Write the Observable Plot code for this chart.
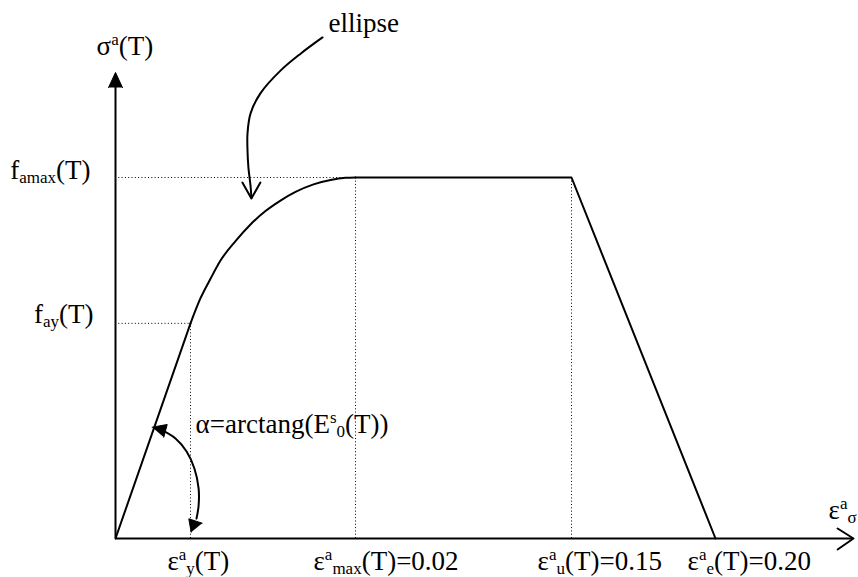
<!DOCTYPE html>
<html><head><meta charset="utf-8">
<script src="https://cdn.jsdelivr.net/npm/d3@7"></script>
<script src="https://cdn.jsdelivr.net/npm/@observablehq/plot@0.6"></script>
<style>html,body{margin:0;padding:0;background:#fff;overflow:hidden}
svg text, svg tspan{font-family:"Liberation Serif","DejaVu Serif","Noto Serif",serif !important;}</style>
</head><body><div id="chart"></div>
<script>
// Schematic stress-strain law (x: drawn strain position, y: stress in % of f_amax)
const epsY = 2.5, epsMax = 8, epsU = 15.2, epsE = 20;
const fAy = 59.6, fAmax = 100;

// elastic branch
const elasticE = [0, epsY];
const elasticS = [0, fAy];
// elliptical branch
const ellipseE = [2.5, 2.83, 3.17, 3.5, 4.0, 4.5, 5.0, 5.5, 6.0, 6.6, 7.17, 7.67, 8];
const ellipseS = [59.6, 66.5, 72.0, 77.0, 82.4, 87.0, 90.7, 93.6, 96.0, 98.1, 99.3, 99.9, 100];
// plateau and descending branch
const plateauE = [epsMax, epsU, epsE];
const plateauS = [fAmax, fAmax, 0];

// axes
const xAxisEnd = 24.6, yAxisEnd = 124.9, yArrowTip = 129.1;
const xArrowE = [24.07, 24.6, 24.07];
const xArrowS = [2.77, 0, -3.05];
const yArrowE = [-0.233, 0, 0.233];
const yArrowS = [yAxisEnd, yArrowTip, yAxisEnd];

// "ellipse" leader arrow
const leaderE = [6.9, 6.17, 5.5, 4.83, 4.5, 4.4, 4.4, 4.43, 4.5, 4.53];
const leaderS = [138.8, 134.3, 129.6, 123.3, 117.7, 112.2, 107.5, 102.8, 97.8, 94.5];
const leaderHeadE = [4.23, 4.53, 4.83];
const leaderHeadS = [98.6, 94.2, 98.6];

// alpha angle arc with two filled heads
const arcE = [1.5, 2.0, 2.37, 2.63, 2.77, 2.77, 2.7];
const arcS = [30.2, 27.7, 24.1, 19.4, 13.9, 9.1, 5.5];
const headUpE = [1.223, 1.723, 1.61];
const headUpS = [30.83, 31.58, 28.06];
const headDownE = [2.523, 2.443, 2.89];
const headDownS = [1.745, 5.457, 4.24];

// labels
const labelText = ["ellipse", "σ^{a}(T)", "f_{amax}(T)", "f_{ay}(T)", "α=arctang(E^{s}_{0}(T))",
  "ε^{a}_{y}(T)", "ε^{a}_{max}(T)=0.02", "ε^{a}_{u}(T)=0.15", "ε^{a}_{e}(T)=0.20", "ε^{a}_{σ}"];
const labelE = [7.1, -0.63, -0.83, -0.73, 2.67, 1.73, 6.6, 14.07, 19.07, 23.77];
const labelS = [140.2, 133.8, 99.7, 59.6, 29.1, -8.6, -8.6, -8.6, -8.6, 5.3];
const labelAnchor = ["start", "start", "end", "end", "start", "start", "start", "start", "start", "start"];

const pts = (E, S) => E.map((e, i) => ({e, s: S[i]}));
const labels = labelText.map((t, i) => ({t, e: labelE[i], s: labelS[i], a: labelAnchor[i]}));

const W = 858, H = 577;
const dotted = {stroke: "#000", strokeWidth: 1, strokeDasharray: "1,2.3"};
const solid = {stroke: "#000", strokeWidth: 2};
const textOpts = {x: "e", y: "s", text: "t", lineAnchor: "bottom", fontSize: 27, fill: "#000"};

const marks = [
  Plot.ruleY([fAmax], {x1: 0, x2: epsMax, ...dotted}),
  Plot.ruleY([fAy], {x1: 0, x2: epsY, ...dotted}),
  Plot.ruleX([epsY], {y1: 0, y2: fAy, ...dotted}),
  Plot.ruleX([epsMax], {y1: 0, y2: fAmax, ...dotted}),
  Plot.ruleX([epsU], {y1: 0, y2: fAmax, ...dotted}),
  Plot.ruleY([0], {x1: 0, x2: xAxisEnd, ...solid}),
  Plot.ruleX([0], {y1: 0, y2: yAxisEnd, ...solid}),
  Plot.line(pts(xArrowE, xArrowS), {x: "e", y: "s", ...solid}),
  Plot.line(pts(yArrowE, yArrowS), {x: "e", y: "s", fill: "#000", stroke: "#000", strokeWidth: 1}),
  Plot.line(pts(elasticE, elasticS), {x: "e", y: "s", ...solid}),
  Plot.line(pts(ellipseE, ellipseS), {x: "e", y: "s", curve: "monotone-x", ...solid}),
  Plot.line(pts(plateauE, plateauS), {x: "e", y: "s", ...solid}),
  Plot.line(pts(leaderE, leaderS), {x: "e", y: "s", curve: "catmull-rom", ...solid}),
  Plot.line(pts(leaderHeadE, leaderHeadS), {x: "e", y: "s", ...solid}),
  Plot.line(pts(arcE, arcS), {x: "e", y: "s", curve: "catmull-rom", ...solid}),
  Plot.line(pts(headUpE, headUpS), {x: "e", y: "s", fill: "#000", stroke: "#000", strokeWidth: 1}),
  Plot.line(pts(headDownE, headDownS), {x: "e", y: "s", fill: "#000", stroke: "#000", strokeWidth: 1}),
  Plot.text(labels.filter(d => d.a === "start"), {...textOpts, textAnchor: "start"}),
  Plot.text(labels.filter(d => d.a === "end"), {...textOpts, textAnchor: "end"})
];

const chart = Plot.plot({
  width: W, height: H,
  marginLeft: 115, marginRight: 0, marginTop: 0, marginBottom: 39,
  x: {domain: [0, 743 / 30], axis: null},
  y: {domain: [0, 538 / 3.61], axis: null},
  style: {background: "#fff", overflow: "hidden"},
  marks
});

// rich text: superscripts ^{..} and subscripts _{..}
const SUP = 10, SUB = 4, SMALL = 17;
d3.select(chart).selectAll("g[aria-label=text] text").each(function () {
  const s = this.textContent;
  if (!/[\^_]/.test(s)) return;
  const sel = d3.select(this);
  sel.text("");
  const re = /([\^_])\{([^}]*)\}|([^\^_]+)/g;
  let m, cur = 0;
  while ((m = re.exec(s))) {
    let txt, shift = 0, small = false;
    if (m[3] !== undefined) { txt = m[3]; }
    else { txt = m[2]; small = true; shift = m[1] === "^" ? -SUP : SUB; }
    const t = sel.append("tspan").text(txt).attr("dy", (shift - cur) + "px");
    if (small) t.attr("font-size", SMALL + "px");
    cur = shift;
  }
});

document.getElementById("chart").appendChild(chart);
</script>
</body></html>
